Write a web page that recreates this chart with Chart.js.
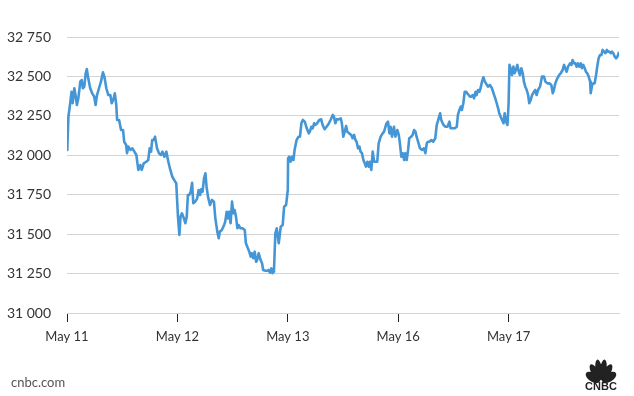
<!DOCTYPE html>
<html>
<head>
<meta charset="utf-8">
<script src="https://cdn.jsdelivr.net/npm/chart.js@4/dist/chart.umd.min.js"></script>
<style>
  html, body { margin: 0; padding: 0; background: #fff; }
  #wrap { position: relative; width: 634px; height: 396px; overflow: hidden; }
  #chart { position: absolute; left: 0; top: 0; }
  .source { position: absolute; left: 11px; top: 374px; font: 13px Lato, sans-serif; color: #555; }
  .logo { position: absolute; left: 580px; top: 354px; }
</style>
</head>
<body>
<div id="wrap">
  <canvas id="chart" width="634" height="396"></canvas>
  <div class="source">cnbc.com</div>
  <svg class="logo" width="42" height="40" viewBox="0 0 42 40">
    <g fill="#222" transform="translate(21,27.5) scale(0.72,1)">
      <ellipse cx="0" cy="-12" rx="4.6" ry="10.5" transform="rotate(-70)"/>
      <ellipse cx="0" cy="-12" rx="4.6" ry="10.5" transform="rotate(-42)"/>
      <ellipse cx="0" cy="-12" rx="4.6" ry="10.5" transform="rotate(-14)"/>
      <ellipse cx="0" cy="-12" rx="4.6" ry="10.5" transform="rotate(14)"/>
      <ellipse cx="0" cy="-12" rx="4.6" ry="10.5" transform="rotate(42)"/>
      <ellipse cx="0" cy="-12" rx="4.6" ry="10.5" transform="rotate(70)"/>
    </g>
    <text x="21" y="36.4" text-anchor="middle" font-family="Liberation Sans, Arial, sans-serif" font-weight="bold" font-size="11" fill="#222">CNBC</text>
  </svg>
</div>
<script>
// Dow intraday, minutes after each day's open vs index level
const dayLabels = ['May 11', 'May 12', 'May 13', 'May 16', 'May 17'];
const sessionMinutes = 390;

const may11 = [[0,32170],[1,32034],[5,32245],[12,32340],[16,32403],[20,32331],[26,32425],[30,32382],[35,32319],[40,32361],
  [47,32467],[52,32477],[56,32425],[61,32435],[66,32520],[70,32547],[75,32488],[82,32425],[89,32393],[96,32372],
  [101,32319],[106,32382],[113,32425],[120,32467],[127,32526],[132,32499],[139,32425],[146,32382],[153,32382],[158,32330],
  [165,32361],[169,32393],[174,32319],[177,32224],[184,32224],[191,32160],[198,32160],[202,32086],[209,32065],[212,32013],
  [217,32055],[224,32034],[231,32044],[238,32023],[245,32002],[252,31907],[259,31938],[264,31907],[271,31949],[280,31959],
  [287,31970],[292,32044],[297,32023],[301,32097],[306,32097],[311,32118],[318,32044],[325,32013],[332,32002],[337,32023],
  [344,31991],[351,32023],[358,31959],[365,31907],[372,31864],[379,31843],[386,31822]];

const may12 = [[2,31611],[7,31495],[11,31611],[16,31632],[23,31600],[28,31569],[33,31611],[37,31748],[42,31748],[47,31769],
  [52,31826],[56,31696],[63,31706],[70,31727],[75,31780],[80,31748],[84,31784],[89,31769],[94,31854],[99,31886],
  [103,31801],[108,31738],[115,31685],[122,31717],[129,31706],[134,31600],[141,31516],[146,31474],[150,31516],[157,31526],
  [165,31558],[169,31579],[174,31642],[179,31600],[183,31642],[188,31569],[193,31706],[198,31632],[202,31653],[207,31611],
  [212,31537],[216,31558],[223,31537],[230,31537],[238,31526],[242,31442],[249,31410],[254,31389],[259,31357],[263,31379],
  [268,31347],[273,31389],[278,31325],[282,31336],[287,31379],[294,31336],[299,31315],[303,31273],[311,31268],[318,31268],
  [322,31273],[327,31256],[332,31283],[336,31252],[341,31262],[346,31505],[351,31537],[358,31442],[365,31547],[372,31558],
  [377,31674],[384,31685]];

const may13 = [[0,31780],[1,31981],[5,31991],[10,31959],[15,31991],[20,31970],[24,32034],[31,32097],[38,32118],[43,32118],
  [48,32203],[53,32224],[60,32213],[67,32171],[74,32139],[78,32150],[83,32181],[88,32171],[93,32203],[97,32192],
  [104,32203],[111,32224],[118,32228],[123,32192],[130,32165],[137,32181],[144,32198],[151,32224],[159,32256],[163,32245],
  [168,32203],[173,32228],[180,32228],[187,32234],[191,32203],[196,32118],[201,32150],[206,32186],[210,32150],[217,32139],
  [224,32129],[229,32108],[234,32129],[239,32097],[243,32086],[248,32044],[253,32055],[257,32023],[262,32013],[267,31970],
  [272,31949],[276,31928],[281,31959],[286,31928],[290,31959],[295,31907],[300,32023],[305,31959],[309,31959],[316,31959],
  [321,32076],[328,32118],[335,32139],[340,32150],[345,32181],[349,32203],[354,32213],[359,32139],[363,32181],[368,32118],
  [375,32181],[380,32118],[387,32160]];

const may16 = [[2,32129],[6,32076],[11,31991],[16,32013],[21,31970],[25,32013],[30,31970],[35,32034],[39,32108],[46,32118],
  [51,32129],[56,32160],[61,32150],[65,32118],[72,32076],[77,32044],[84,32034],[91,32044],[96,32013],[101,32076],
  [105,32086],[110,32086],[117,32097],[124,32086],[131,32108],[136,32192],[143,32234],[148,32266],[152,32224],[160,32192],
  [167,32181],[174,32181],[181,32213],[185,32171],[192,32171],[200,32171],[207,32181],[211,32256],[216,32287],[221,32308],
  [225,32287],[230,32330],[235,32403],[240,32403],[244,32393],[249,32382],[254,32372],[258,32372],[263,32382],[268,32361],
  [273,32403],[277,32382],[282,32414],[287,32403],[291,32425],[296,32467],[301,32495],[306,32467],[310,32456],[317,32435],
  [324,32446],[331,32425],[339,32382],[343,32361],[348,32330],[353,32298],[357,32266],[362,32245],[367,32224],[372,32203],
  [376,32266],[381,32213],[386,32192]];

const may17 = [[0,32330],[3,32573],[7,32552],[12,32509],[17,32562],[21,32520],[26,32541],[31,32573],[36,32530],[40,32509],
  [45,32552],[50,32520],[54,32467],[59,32435],[64,32414],[69,32382],[73,32330],[78,32351],[83,32382],[90,32403],
  [94,32414],[99,32382],[104,32414],[111,32435],[118,32499],[125,32499],[130,32467],[137,32456],[144,32456],[151,32446],
  [156,32393],[160,32414],[165,32456],[172,32488],[179,32509],[184,32520],[191,32541],[196,32573],[200,32552],[205,32530],
  [210,32562],[217,32583],[222,32573],[226,32604],[231,32583],[236,32583],[240,32562],[245,32583],[250,32562],[255,32583],
  [259,32552],[264,32573],[269,32552],[273,32530],[278,32520],[283,32499],[288,32467],[290,32393],[295,32446],[299,32456],
  [304,32456],[309,32509],[314,32573],[318,32615],[323,32636],[328,32636],[332,32668],[337,32657],[342,32647],[347,32668],
  [351,32657],[356,32657],[361,32647],[365,32657],[370,32647],[375,32625],[380,32615],[384,32625],[389,32647],[390,32657]];

const yTicks = [31000, 31250, 31500, 31750, 32000, 32250, 32500, 32750];
const yTickLabels = ['31\u2005000', '31\u2005250', '31\u2005500', '31\u2005750', '32\u2005000', '32\u2005250', '32\u2005500', '32\u2005750'];

const days = [may11, may12, may13, may16, may17];
const points = [];
days.forEach((day, i) => {
    day.forEach(([m, v]) => points.push({ x: i * sessionMinutes + m, y: v }));
});

new Chart(document.getElementById('chart'), {
    type: 'line',
    data: {
        datasets: [{
            data: points,
            borderColor: '#4596d6',
            borderWidth: 2.6,
            pointRadius: 0,
            tension: 0,
            borderJoinStyle: 'round',
            fill: false
        }]
    },
    options: {
        responsive: false,
        animation: false,
        devicePixelRatio: 1,
        layout: { padding: { top: 37, right: 15, left: 0, bottom: 0 } },
        plugins: {
            legend: { display: false },
            tooltip: { enabled: false }
        },
        scales: {
            x: {
                type: 'linear',
                min: 0,
                max: sessionMinutes * days.length,
                afterBuildTicks: (s) => { s.ticks = dayLabels.map((l, i) => ({ value: i * sessionMinutes })); },
                afterFit: (s) => { s.height = 83; },
                grid: { drawOnChartArea: false, drawTicks: true, tickLength: 9, tickColor: '#222', tickWidth: 1 },
                border: { color: '#d4d4d4' },
                ticks: {
                    autoSkip: false,
                    maxRotation: 0,
                    padding: 7,
                    color: '#333',
                    font: { family: 'Lato', size: 13 },
                    callback: (v, i) => dayLabels[i]
                }
            },
            y: {
                min: yTicks[0],
                max: yTicks[yTicks.length - 1],
                afterBuildTicks: (s) => { s.ticks = yTicks.map(v => ({ value: v })); },
                afterFit: (s) => { s.width = 67; },
                grid: { color: '#d4d4d4', drawTicks: false },
                border: { display: false },
                ticks: {
                    padding: 16,
                    color: '#333',
                    font: { family: 'Lato', size: 14 },
                    callback: (v, i) => yTickLabels[i]
                }
            }
        }
    }
});
</script>
</body>
</html>
